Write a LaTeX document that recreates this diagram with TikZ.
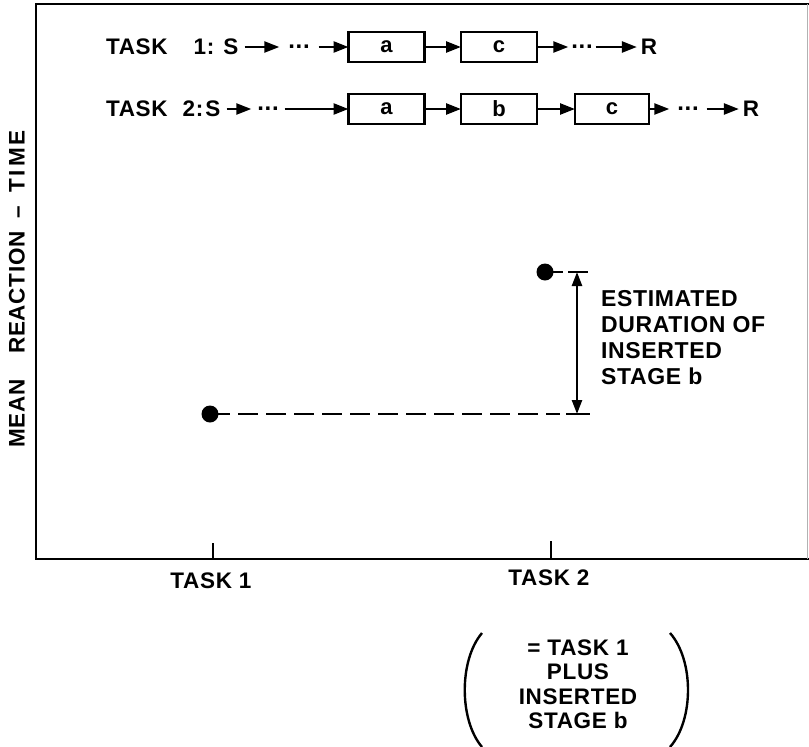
\documentclass[tikz,border=0pt]{standalone}
\usepackage{fontspec}
\setmainfont{Liberation Sans}[LetterSpace=3]
\usetikzlibrary{arrows.meta}
\begin{document}
\begin{tikzpicture}[x=1pt,y=-1pt,
  every node/.style={inner sep=0pt, outer sep=0pt, font=\bfseries\fontsize{22.5}{26}\selectfont},
  stagebox/.style={draw, line width=2.5pt, minimum width=76pt, minimum height=30pt, font=\bfseries\fontsize{22}{26}\selectfont},
  arr/.style={-{Triangle[length=15pt,width=11pt]}, line width=2.5pt},
  dotsnode/.style={text height=3.4pt, text depth=0pt, font=\bfseries\fontsize{24}{26}\selectfont},
  frameline/.style={line width=2.8pt},
  dpoint/.style={circle, fill=black, minimum size=17pt}]
\useasboundingbox (0,0) rectangle (809,747);
% frame
\coordinate (ftr) at (809,4);
\coordinate (ftl) at (36,4);
\coordinate (fbl) at (36,559);
\coordinate (fbr) at (809,559);
\draw[frameline] (ftr) -- (ftl) -- (fbl) -- (fbr);
\draw[line width=1pt, black!30] (807.5,4) -- (807.5,559);
% ticks
\coordinate (tk1) at (213,559);
\coordinate (tk1t) at (213,543);
\coordinate (tk2) at (551,559);
\coordinate (tk2t) at (551,541);
\draw[line width=2pt] (tk1) -- (tk1t);
\draw[line width=2pt] (tk2) -- (tk2t);
\node (xl1) at (211,581) {TASK 1};
\node (xl2) at (549,578) {TASK 2};
% y label
\node[rotate=90] (ylab) at (17,289) {MEAN\hspace{26pt}REACTION\hspace{13pt}–\hspace{13pt}T\hspace{3pt}I\hspace{3pt}M\hspace{3pt}E};
% row 1
\node[anchor=west] (lab1) at (106,47) {TASK\hspace{26pt}1:};
\node[inner xsep=6pt] (s1) at (231,47) {S};
\node[dotsnode, inner xsep=9pt] (d1a) at (299,47) {...};
\node[stagebox] (a1) at (386.5,47) {a};
\node[stagebox] (c1) at (499,47) {c};
\node[dotsnode, inner xsep=3pt] (d1b) at (582,47) {...};
\node[inner xsep=4pt] (r1) at (649,47) {R};
\draw[arr] (s1) -- (d1a);
\draw[arr] (d1a) -- (a1);
\draw[arr] (a1) -- (c1);
\draw[arr] (c1) -- (d1b);
\draw[arr] (d1b) -- (r1);
% row 2
\node[anchor=west] (lab2) at (106,109) {TASK\hspace{15pt}2:};
\node[inner xsep=6pt] (s2) at (213,109) {S};
\node[dotsnode, inner xsep=6pt] (d2a) at (268,109) {...};
\node[stagebox] (a2) at (386.5,109) {a};
\node[stagebox] (b2) at (499,109) {b};
\node[stagebox, minimum width=74pt] (c2) at (612,109) {c};
\node[dotsnode, inner xsep=8pt] (d2b) at (688,109) {...};
\node[inner xsep=4pt] (r2) at (751,109) {R};
\draw[arr] (s2) -- (d2a);
\draw[arr] (d2a) -- (a2);
\draw[arr] (a2) -- (b2);
\draw[arr] (b2) -- (c2);
\draw[arr] (c2) -- (d2b);
\draw[arr] (d2b) -- (r2);
% data points
\node[dpoint] (p1) at (210,414) {};
\node[dpoint] (p2) at (545,272) {};
\coordinate (st2) at (563,272);
\coordinate (de1) at (560,414);
\draw[line width=2.4pt] (p2.center) -- (st2);
\draw[line width=2.4pt, dash pattern=on 20pt off 8pt] (p1.center) -- (de1);
% measurement
\coordinate (mt) at (577,272);
\coordinate (mb) at (577,414);
\coordinate (mtl) at (568,272);
\coordinate (mtr) at (588,272);
\coordinate (mbl) at (566,414);
\coordinate (mbr) at (590,414);
\draw[line width=2.4pt] (mtl) -- (mtr);
\draw[line width=2.4pt] (mbl) -- (mbr);
\draw[line width=2.4pt, {Triangle[length=14pt,width=10pt]}-{Triangle[length=14pt,width=10pt]}] (mt) -- (mb);
\node[anchor=north west, align=left, font=\bfseries\fontsize{23}{26}\selectfont] (est) at (601,290) {ESTIMATED\\DURATION OF\\INSERTED\\STAGE b};
% parenthetical
\node[align=center, font=\bfseries\fontsize{22.5}{24.5}\selectfont] (note) at (578,684) {= TASK 1\\PLUS\\INSERTED\\STAGE b};
\coordinate (lpt) at (482,633);
\coordinate (lpb) at (482,747);
\coordinate (rpt) at (670,633);
\coordinate (rpb) at (670,747);
\draw[line width=2.4pt] (lpt) .. controls (459,660) and (459,720) .. (lpb);
\draw[line width=2.4pt] (rpt) .. controls (694,660) and (694,720) .. (rpb);
\end{tikzpicture}
\end{document}
